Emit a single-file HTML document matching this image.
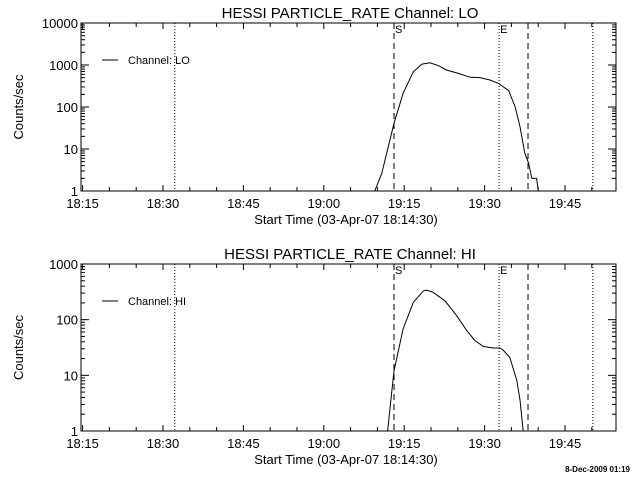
<!DOCTYPE html>
<html><head><meta charset="utf-8"><style>
html,body{margin:0;padding:0;background:#fff;}
svg{display:block;font-family:"Liberation Sans",sans-serif;}
</style></head><body>
<svg id="chart" width="640" height="480" viewBox="0 0 640 480" xmlns="http://www.w3.org/2000/svg">
<rect x="0" y="0" width="640" height="480" fill="#fff"/>
<g id="root"></g>
<text x="630" y="472" font-size="8" text-anchor="end" font-weight="bold">8-Dec-2009 01:19</text>
</svg>
<script>
// minutes after 18:15
const xTickLabels = ["18:15","18:30","18:45","19:00","19:15","19:30","19:45"];
const xTickMinutes = [0,15,30,45,60,75,90];
const loTimes = [54.5,55.8,58.1,59.8,61.7,63.3,64.8,66.4,67.9,70.1,72.3,74.1,76.0,77.6,79.5,80.7,81.6,82.5,83.2,83.8,84.7,85.0];
const loValues = [1,2.6,41,212,690,1050,1130,960,760,630,510,500,440,365,245,100,34,8,4.6,2,2,1];
const hiTimes = [56.9,58.1,59.8,61.7,63.6,64.2,65.4,67.6,69.8,71.7,73.2,74.8,76.6,77.9,78.5,79.7,81.0,81.6,82.2];
const hiValues = [1,12,68,204,330,340,310,218,118,63,42,33,31,31,28,21,8.1,3.6,1];
const dottedLines = [17.2,77.7,95.2];
const dashedLines = [58.1,83.1];
const loYLabels = ["1","10","100","1000","10000"];
const hiYLabels = ["1","10","100","1000"];

const NS="http://www.w3.org/2000/svg";
const root=document.getElementById('root');
function mk(tag,attrs,parent){const e=document.createElementNS(NS,tag);for(const k in attrs)e.setAttribute(k,attrs[k]);(parent||root).appendChild(e);return e;}

function panel(opt){
  const L=81,R=616,T=opt.top,B=opt.bottom;
  const xs=m=>82.6+5.36*m;
  const dec=(B-T)/opt.decades;
  const ys=v=>B-dec*Math.log10(v);
  const g=mk('g',{});
  
  
  const frame=mk('rect',{x:L,y:T,width:R-L,height:B-T,fill:'none',stroke:'#000','stroke-width':1},g);
  
  
  for(let m=0;m<=100;m+=5){const x=xs(m);if(x>R)break;const len=(m%15===0)?6:4;
    mk('line',{x1:x,y1:B,x2:x,y2:B-len,stroke:'#000'},g);mk('line',{x1:x,y1:T,x2:x,y2:T+len,stroke:'#000'},g);}
  xTickLabels.forEach((lab,i)=>{const t=mk('text',{x:xs(xTickMinutes[i]),y:B+17,'font-size':13,'text-anchor':'middle'},g);t.textContent=lab;
    
    });
  for(let d=0;d<opt.decades;d++){for(let k=1;k<=9;k++){const y=ys(Math.pow(10,d)*k);const len=k===1?8:4;
    mk('line',{x1:L,y1:y,x2:L+len,y2:y,stroke:'#000'},g);mk('line',{x1:R,y1:y,x2:R-len,y2:y,stroke:'#000'},g);}}
  mk('line',{x1:L,y1:T,x2:L+8,y2:T,stroke:'#000'},g);
  opt.ylabels.forEach((lab,i)=>{const t=mk('text',{x:L-3,y:ys(Math.pow(10,i))+5,'font-size':13,'text-anchor':'end'},g);t.textContent=lab;
    
    });
  dottedLines.forEach(m=>{const l=mk('line',{x1:xs(m),y1:T,x2:xs(m),y2:B,stroke:'#000','stroke-dasharray':'1,2'},g);
    
    });
  dashedLines.forEach(m=>{const l=mk('line',{x1:xs(m),y1:T,x2:xs(m),y2:B,stroke:'#000','stroke-dasharray':'6,4'},g);
    
    });
  const s=mk('text',{x:xs(dashedLines[0])+1,y:T+10,'font-size':11},g);s.textContent='S';
  
  
  const e=mk('text',{x:xs(dottedLines[1])+1,y:T+10,'font-size':11},g);e.textContent='E';
  
  
  const pts=opt.times.map((t,i)=>xs(t).toFixed(1)+','+ys(opt.values[i]).toFixed(1)).join(' ');
  const pl=mk('polyline',{points:pts,fill:'none',stroke:'#000','stroke-width':1},g);
  
  
  const lg=mk('g',{},g);
  
  
  mk('line',{x1:102,y1:T+37,x2:118,y2:T+37,stroke:'#000'},lg);
  const lt=mk('text',{x:128,y:T+41,'font-size':11},lg);lt.textContent=opt.legend;
  const ti=mk('text',{x:350,y:T-5,'font-size':15,'text-anchor':'middle'},g);ti.textContent=opt.title;
  
  
  const xt=mk('text',{x:346,y:B+33,'font-size':13,'text-anchor':'middle'},g);xt.textContent='Start Time (03-Apr-07 18:14:30)';
  
  
  const yt=mk('text',{x:0,y:0,'font-size':13,'text-anchor':'middle',transform:`translate(23,${(T+B)/2}) rotate(-90)`},g);yt.textContent='Counts/sec';
  
  
}
panel({name:'lo',top:23,bottom:191,decades:4,ylabels:loYLabels,times:loTimes,values:loValues,legend:'Channel: LO',title:'HESSI PARTICLE_RATE Channel: LO'});
panel({name:'hi',top:264,bottom:431,decades:3,ylabels:hiYLabels,times:hiTimes,values:hiValues,legend:'Channel: HI',title:'HESSI PARTICLE_RATE Channel: HI'});
</script>
</body></html>
